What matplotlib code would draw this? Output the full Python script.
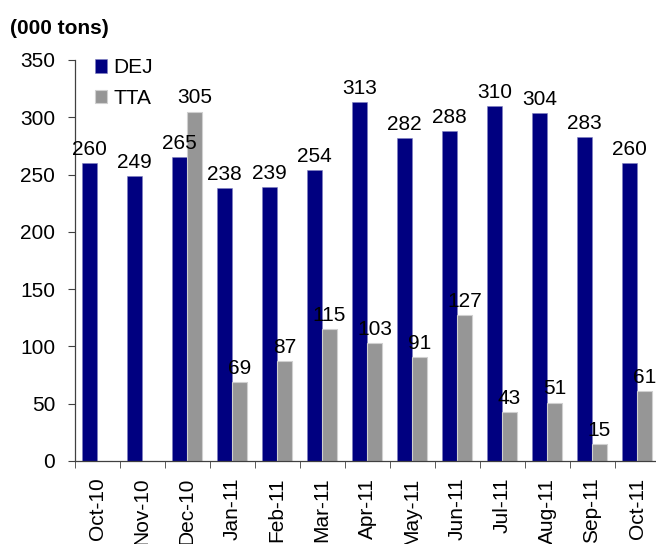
import numpy as np
import matplotlib.pyplot as plt
from matplotlib.ticker import FixedLocator

months = ['Oct-10', 'Nov-10', 'Dec-10', 'Jan-11', 'Feb-11', 'Mar-11', 'Apr-11',
          'May-11', 'Jun-11', 'Jul-11', 'Aug-11', 'Sep-11', 'Oct-11']
dej = [260, 249, 265, 238, 239, 254, 313, 282, 288, 310, 304, 283, 260]
tta = [None, None, 305, 69, 87, 115, 103, 91, 127, 43, 51, 15, 61]

plt.rcParams['font.family'] = ['Liberation Sans', 'DejaVu Sans']
fs = 15

fig = plt.figure(figsize=(6.56, 5.44), dpi=100)
ax = fig.add_axes([74.5 / 656, 1 - 461 / 544, 585 / 656, 401 / 544])

x = np.arange(len(months))
w = 0.33
ax.bar(x - w / 2, dej, w, color='#000080', edgecolor='#8080c0', linewidth=0.4, label='DEJ')
tta_vals = [v if v is not None else 0 for v in tta]
ax.bar(x + w / 2, tta_vals, w, color='#969696', edgecolor='#d0d0d0', linewidth=0.8, label='TTA')

for i, v in enumerate(dej):
    ax.annotate(str(v), (x[i] - w / 2, v), xytext=(0, 3), textcoords='offset points',
                ha='center', va='bottom', fontsize=fs)
for i, v in enumerate(tta):
    if v is None:
        continue
    ax.annotate(str(v), (x[i] + w / 2, v), xytext=(0, 3), textcoords='offset points',
                ha='center', va='bottom', fontsize=fs)

ax.set_xlim(-0.5, len(months) - 0.5)
ax.set_ylim(0, 350)
ax.set_yticks(range(0, 351, 50))
ax.set_xticks(x)
ax.set_xticklabels(months, rotation=90, fontsize=fs)
ax.xaxis.set_minor_locator(FixedLocator(np.arange(-0.5, len(months), 1)))
ax.tick_params(axis='x', which='major', length=0, pad=12)
ax.tick_params(axis='x', which='minor', length=5, direction='out', color='#404040')
ax.tick_params(axis='y', length=5, direction='out', labelsize=fs, pad=9, color='#404040')

for s in ['top', 'right']:
    ax.spines[s].set_visible(False)
for s in ['left', 'bottom']:
    ax.spines[s].set_color('#404040')
    ax.spines[s].set_linewidth(0.9)

ax.legend(loc='upper left', bbox_to_anchor=(0.02, 1.025), frameon=False, fontsize=fs,
          handlelength=0.6, handleheight=0.6, handletextpad=0.3, labelspacing=0.55,
          borderaxespad=0)

fig.text(10 / 656, 1 - 19 / 544, '(000 tons)', fontsize=fs, fontweight='bold', va='top', ha='left')

fig.savefig('out.png', dpi=100)
